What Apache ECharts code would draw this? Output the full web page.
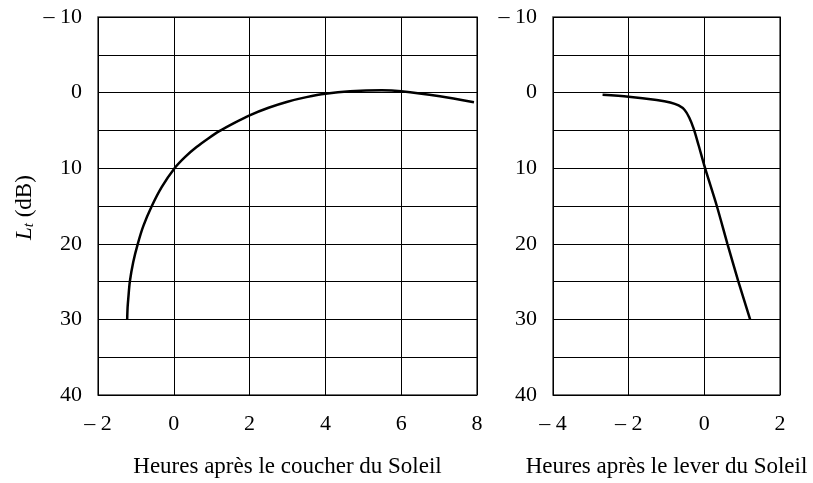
<!DOCTYPE html>
<html>
<head>
<meta charset="utf-8">
<script src="https://cdn.jsdelivr.net/npm/echarts@6/dist/echarts.min.js"></script>
<style>
html,body{margin:0;padding:0;background:#fff;}
#c{width:813px;height:483px;}
</style>
</head>
<body>
<div id="c"></div>
<script>
// Left panel: hours after sunset
const sunsetHours = [-1.23, -1.22, -1.20, -1.16, -1.07, -0.95, -0.80, -0.58, -0.32, 0.02, 0.3, 0.6, 0.9, 1.2, 1.6, 2.0, 2.5, 3.0, 3.5, 4.0, 4.65, 5.49, 6.0, 7.02, 7.92];
const sunsetLt    = [30, 28.5, 27.2, 25, 22.4, 20, 17.6, 15, 12.5, 10, 8.5, 7.2, 6.1, 5.1, 4.0, 3.0, 2.0, 1.2, 0.6, 0.15, -0.17, -0.3, -0.17, 0.49, 1.28];
// Right panel: hours after sunrise
const sunriseHours = [-2.69, -2.0, -1.26, -0.9, -0.68, -0.52, -0.4, -0.28, -0.15, 0.02, 0.33, 0.61, 0.90, 1.21];
const sunriseLt    = [0.3, 0.55, 0.98, 1.3, 1.7, 2.3, 3.3, 4.8, 7.0, 10, 15, 20, 25, 30];
// Axis ticks
const yTicks = [-10, 0, 10, 20, 30, 40];
const xLeftTicks = [-2, 0, 2, 4, 6, 8];
const xRightTicks = [-4, -2, 0, 2];

const FONT = '"Liberation Serif", "DejaVu Serif", serif';
const fmtNum = v => (v < 0 ? '\u2013 ' + Math.abs(v) : String(v));

function xAxis(gi, min, max, name) {
  return {
    type: 'value', gridIndex: gi, min: min, max: max, interval: 2,
    name: name, nameLocation: 'middle', nameGap: 60,
    nameTextStyle: {fontFamily: FONT, fontSize: 23, color: '#000'},
    axisLine: {show: false}, axisTick: {show: false},
    axisLabel: {fontFamily: FONT, fontSize: 22, color: '#000', margin: 18, formatter: fmtNum},
    splitLine: {show: true, lineStyle: {color: '#000', width: 1}}
  };
}
function yAxis(gi) {
  return {
    type: 'value', gridIndex: gi, min: -10, max: 40, interval: 5, inverse: true,
    axisLine: {show: false}, axisTick: {show: false},
    axisLabel: {fontFamily: FONT, fontSize: 22, color: '#000', margin: 16,
      formatter: v => (yTicks.indexOf(v) >= 0 ? fmtNum(v) : '')},
    splitLine: {show: true, lineStyle: {color: '#000', width: 1}}
  };
}

const chart = echarts.init(document.getElementById('c'), null, {renderer: 'canvas'});
chart.setOption({
  backgroundColor: '#fff',
  animation: false,
  grid: [
    {left: 98, top: 17, width: 379, height: 380, show: true, borderColor: '#444', borderWidth: 1.5, backgroundColor: 'transparent'},
    {left: 553, top: 17, width: 227, height: 380, show: true, borderColor: '#444', borderWidth: 1.5, backgroundColor: 'transparent'}
  ],
  xAxis: [
    xAxis(0, -2, 8, 'Heures après le coucher du Soleil'),
    xAxis(1, -4, 2, 'Heures après le lever du Soleil')
  ],
  yAxis: [yAxis(0), yAxis(1)],
  graphic: [{
    type: 'text', x: 12, y: 240, rotation: Math.PI / 2,
    style: {
      text: '{L|L}{t|t}{r| (dB)}',
      fill: '#000',
      rich: {
        L: {fontFamily: FONT, fontSize: 23, fontStyle: 'italic', fill: '#000'},
        t: {fontFamily: FONT, fontSize: 15, fontStyle: 'italic', fill: '#000', padding: [10, 0, 0, 0]},
        r: {fontFamily: FONT, fontSize: 23, fill: '#000'}
      }
    }
  }],
  series: [
    {type: 'line', xAxisIndex: 0, yAxisIndex: 0, data: sunsetHours.map((x, i) => [x, sunsetLt[i]]),
     showSymbol: false, smooth: 0.3, lineStyle: {color: '#000', width: 2.5}},
    {type: 'line', xAxisIndex: 1, yAxisIndex: 1, data: sunriseHours.map((x, i) => [x, sunriseLt[i]]),
     showSymbol: false, smooth: 0.3, lineStyle: {color: '#000', width: 2.5}}
  ]
});
</script>
</body>
</html>
